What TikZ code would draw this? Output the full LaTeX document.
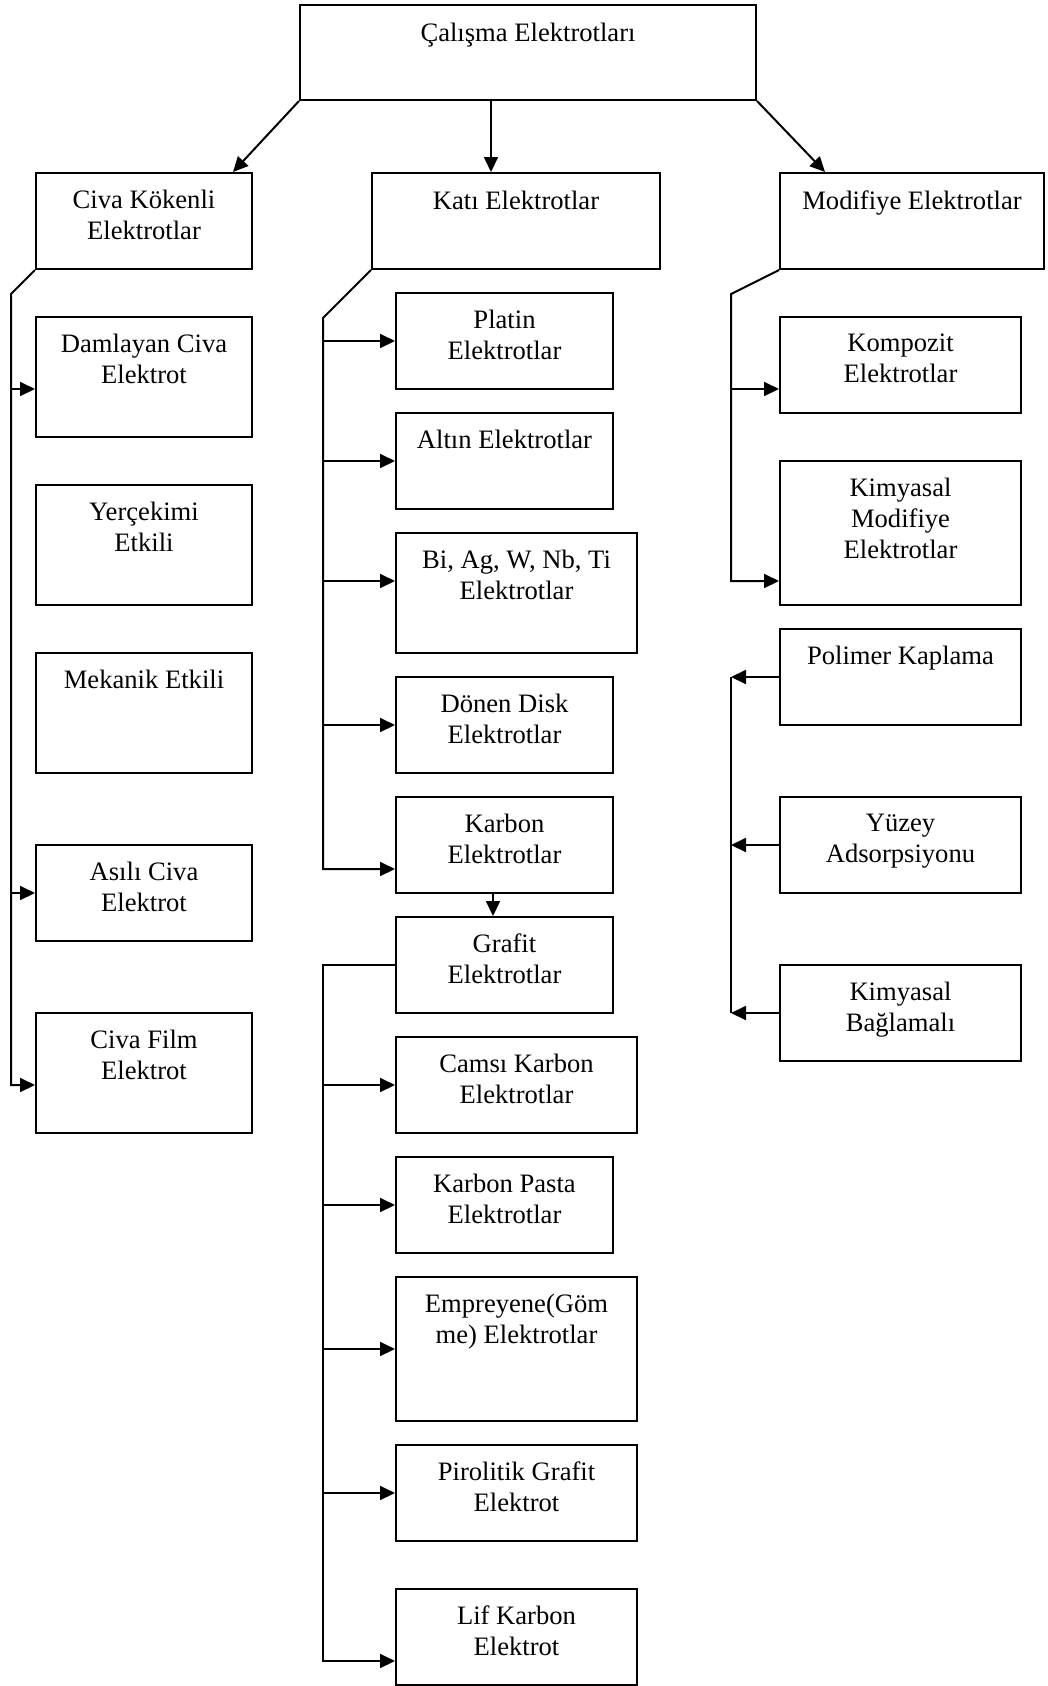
\documentclass[tikz,border=0pt]{standalone}
\usepackage{fontspec}
\setmainfont{Liberation Serif}
\usetikzlibrary{positioning,arrows.meta}

\tikzset{
	ebox/.style={draw,line width=2pt,inner sep=0pt,minimum height=96pt},
	etext/.style={align=center,inner sep=0pt,font=\fontsize{26.6}{31}\selectfont},
	arr/.style={line width=2pt,-{Triangle[length=15pt,width=14pt]}},
	rarr/.style={line width=2pt,{Triangle[length=15pt,width=14pt]}-},
	bus/.style={line width=2pt}
}

\begin{document}
\begin{tikzpicture}[x=1pt,y=-1pt]
	\useasboundingbox (0,0) rectangle (1047,1686);
	
	%boxes
	\node[ebox,minimum width=456pt,minimum height=95pt] (cal) at (528,52.5) {};
	%
	\node[ebox,minimum width=216pt] (civa) at (144,221) {};
	\node[ebox,minimum width=288pt] (kati) at (516,221) {};
	\node[ebox,minimum width=264pt] (modi) at (912,221) {};
	%
	\node[ebox,minimum width=216pt,minimum height=120pt] (damla)  at (144,377)  {};
	\node[ebox,minimum width=216pt,minimum height=120pt] (yercek) at (144,545)  {};
	\node[ebox,minimum width=216pt,minimum height=120pt] (mekan)  at (144,713)  {};
	\node[ebox,minimum width=216pt]                      (asili)  at (144,893)  {};
	\node[ebox,minimum width=216pt,minimum height=120pt] (film)   at (144,1073) {};
	%
	\node[ebox,minimum width=217pt]                      (platin) at (504.5,341)  {};
	\node[ebox,minimum width=217pt]                      (altin)  at (504.5,461)  {};
	\node[ebox,minimum width=241pt,minimum height=120pt] (biag)   at (516.5,593)  {};
	\node[ebox,minimum width=217pt]                      (donen)  at (504.5,725)  {};
	\node[ebox,minimum width=217pt]                      (karbon) at (504.5,845)  {};
	\node[ebox,minimum width=217pt]                      (grafit) at (504.5,965)  {};
	\node[ebox,minimum width=241pt]                      (camsi)  at (516.5,1085) {};
	\node[ebox,minimum width=217pt]                      (pasta)  at (504.5,1205) {};
	\node[ebox,minimum width=241pt,minimum height=144pt] (empre)  at (516.5,1349) {};
	\node[ebox,minimum width=241pt]                      (piro)   at (516.5,1493) {};
	\node[ebox,minimum width=241pt]                      (lif)    at (516.5,1637) {};
	%
	\node[ebox,minimum width=241pt]                      (kompo)  at (900.5,365)  {};
	\node[ebox,minimum width=241pt,minimum height=144pt] (kimmod) at (900.5,533)  {};
	\node[ebox,minimum width=241pt]                      (polim)  at (900.5,677)  {};
	\node[ebox,minimum width=241pt]                      (yuzey)  at (900.5,845)  {};
	\node[ebox,minimum width=241pt]                      (bagla)  at (900.5,1013) {};
	
	%inner labels
	\node[etext,below=19pt of cal.north]  {Çalışma Elektrotları};
	\node[etext,below=18pt of civa.north] {Civa Kökenli\\Elektrotlar};
	\node[etext,below=19pt of kati.north] {Katı Elektrotlar};
	\node[etext,below=19pt of modi.north] {Modifiye Elektrotlar};
	%
	\node[etext,below=18pt of damla.north]  {Damlayan Civa\\Elektrot};
	\node[etext,below=18pt of yercek.north] {Yerçekimi\\Etkili};
	\node[etext,below=18pt of mekan.north]  {Mekanik Etkili};
	\node[etext,below=18pt of asili.north]  {Asılı Civa\\Elektrot};
	\node[etext,below=18pt of film.north]   {Civa Film\\Elektrot};
	%
	\node[etext,below=18pt of platin.north] {Platin\\Elektrotlar};
	\node[etext,below=18pt of altin.north]  {Altın Elektrotlar};
	\node[etext,below=18pt of biag.north]   {Bi, Ag, W, Nb, Ti\\Elektrotlar};
	\node[etext,below=18pt of donen.north]  {Dönen Disk\\Elektrotlar};
	\node[etext,below=18pt of karbon.north] {Karbon\\Elektrotlar};
	\node[etext,below=18pt of grafit.north] {Grafit\\Elektrotlar};
	\node[etext,below=18pt of camsi.north]  {Camsı Karbon\\Elektrotlar};
	\node[etext,below=18pt of pasta.north]  {Karbon Pasta\\Elektrotlar};
	\node[etext,below=18pt of empre.north]  {Empreyene(Göm\\me) Elektrotlar};
	\node[etext,below=18pt of piro.north]   {Pirolitik Grafit\\Elektrot};
	\node[etext,below=18pt of lif.north]    {Lif Karbon\\Elektrot};
	%
	\node[etext,below=18pt of kompo.north]  {Kompozit\\Elektrotlar};
	\node[etext,below=18pt of kimmod.north] {Kimyasal\\Modifiye\\Elektrotlar};
	\node[etext,below=18pt of polim.north]  {Polimer Kaplama};
	\node[etext,below=18pt of yuzey.north]  {Yüzey\\Adsorpsiyonu};
	\node[etext,below=18pt of bagla.north]  {Kimyasal\\Bağlamalı};
	
	%arrows
	\draw[arr] (cal.south west) -- ([xshift=-20pt]civa.north east);
	\draw[arr] ([xshift=-37pt]cal.south) -- ([xshift=-25pt]kati.north);
	\draw[arr] (cal.south east) -- ([xshift=46pt]modi.north west);
	%
	\draw[arr] (civa.south west) -- ++(-24,24) |- ([yshift=-12pt]film.west);
	\draw[rarr] ([yshift=-12pt]damla.west) -- ++(-24,0);
	\draw[rarr] (asili.west) -- ++(-24,0);
	%
	\draw[arr] (kati.south west) -- ++(-48,48) |- ([yshift=-24pt]karbon.west);
	\draw[rarr] (platin.west) -- ++(-72,0);
	\draw[rarr] (altin.west) -- ++(-72,0);
	\draw[rarr] ([yshift=12pt]biag.west) -- ++(-72,0);
	\draw[rarr] (donen.west) -- ++(-72,0);
	\draw[arr] ([xshift=-11.5pt]karbon.south) -- ([xshift=-11.5pt]grafit.north);
	%
	\draw[arr] (grafit.west) -- ++(-72,0) |- ([yshift=-24pt]lif.west);
	\draw[rarr] (camsi.west) -- ++(-72,0);
	\draw[rarr] (pasta.west) -- ++(-72,0);
	\draw[rarr] (empre.west) -- ++(-72,0);
	\draw[rarr] (piro.west) -- ++(-72,0);
	%
	\draw[arr] (modi.south west) -- ++(-48,24) |- ([yshift=-48pt]kimmod.west);
	\draw[rarr] ([yshift=-24pt]kompo.west) -- ++(-48,0);
	%
	\draw[bus] ([xshift=-48pt]polim.west) -- ([xshift=-48pt]bagla.west);
	\draw[arr] (polim.west) -- ++(-48,0);
	\draw[arr] (yuzey.west) -- ++(-48,0);
	\draw[arr] (bagla.west) -- ++(-48,0);
\end{tikzpicture}
\end{document}
